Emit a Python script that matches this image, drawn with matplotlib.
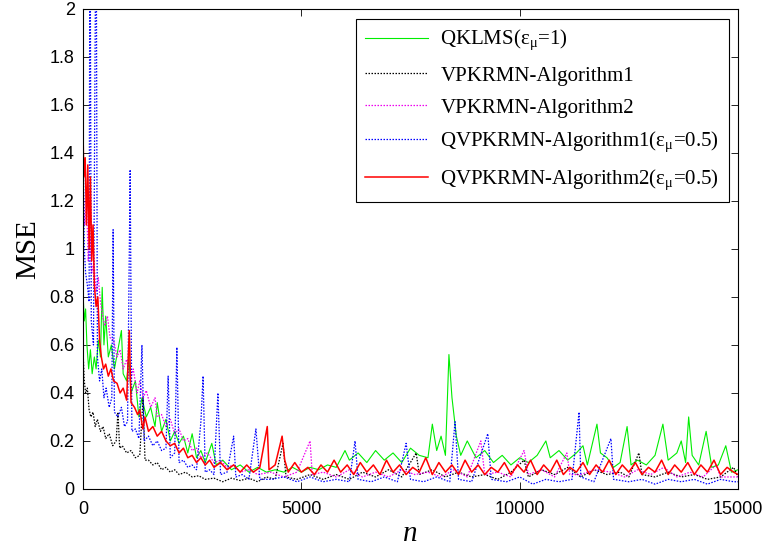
import matplotlib
matplotlib.use('Agg')
import matplotlib.pyplot as plt

# == data (iteration n, MSE) ===================================================
green_n = [0, 30, 60, 90, 130, 170, 210, 260, 300, 350, 400, 440, 480, 520, 580, 650, 720, 800,
           880, 920, 1000, 1050, 1100, 1200, 1280, 1350, 1450, 1550, 1650, 1700, 1800, 1900, 2000,
           2100, 2200, 2300, 2400, 2500, 2600, 2700, 2800, 2950, 3050, 3200, 3400, 3600, 3800, 4000,
           4200, 4400, 4600, 4800, 5000, 5200, 5400, 5600, 5800, 6000, 6100, 6300, 6500, 6700, 6900,
           7100, 7300, 7500, 7700, 7900, 8000, 8100, 8200, 8300, 8380, 8450, 8550, 8650, 8800, 9000,
           9200, 9400, 9600, 9800, 10000, 10200, 10400, 10600, 10700, 10900, 11100, 11300, 11450,
           11550, 11770, 11850, 12000, 12150, 12300, 12460, 12550, 12700, 12900, 13100, 13280, 13400,
           13600, 13700, 13800, 13870, 13950, 14100, 14270, 14400, 14550, 14720, 14850, 15000]
green_mse = [0.82, 0.70, 0.75, 0.60, 0.50, 0.58, 0.48, 0.55, 0.50, 0.62, 0.55, 0.84, 0.60, 0.72, 0.55,
             0.60, 0.50, 0.58, 0.66, 0.48, 0.45, 0.55, 0.40, 0.45, 0.30, 0.38, 0.30, 0.34, 0.26, 0.36,
             0.24, 0.29, 0.20, 0.24, 0.19, 0.22, 0.15, 0.23, 0.13, 0.16, 0.11, 0.19, 0.10, 0.12, 0.08,
             0.10, 0.07, 0.09, 0.07, 0.08, 0.07, 0.09, 0.07, 0.09, 0.08, 0.10, 0.09, 0.16, 0.12, 0.15,
             0.11, 0.16, 0.12, 0.15, 0.11, 0.17, 0.14, 0.13, 0.27, 0.16, 0.22, 0.14, 0.56, 0.38, 0.22,
             0.14, 0.20, 0.13, 0.16, 0.11, 0.14, 0.10, 0.13, 0.11, 0.14, 0.20, 0.13, 0.16, 0.12, 0.15,
             0.18, 0.10, 0.27, 0.15, 0.13, 0.09, 0.11, 0.26, 0.10, 0.12, 0.10, 0.14, 0.27, 0.12, 0.15,
             0.20, 0.11, 0.30, 0.14, 0.10, 0.24, 0.09, 0.10, 0.18, 0.07, 0.08]

black_n = [0, 30, 60, 100, 140, 180, 230, 280, 330, 400, 460, 520, 600, 680, 760, 800, 840, 900,
           1000, 1100, 1200, 1300, 1375, 1420, 1500, 1600, 1700, 1800, 1900, 2000, 2100, 2200, 2350,
           2500, 2650, 2800, 3000, 3200, 3400, 3600, 3800, 4000, 4200, 4400, 4580, 4650, 4900, 5200,
           5500, 5800, 6100, 6400, 6700, 7000, 7300, 7630, 7700, 8000, 8300, 8600, 8900, 9200, 9500,
           9800, 10100, 10200, 10500, 10800, 11100, 11400, 11700, 12000, 12300, 12500, 12730, 12800,
           13100, 13400, 13700, 14000, 14300, 14600, 14900, 15000]
black_mse = [0.58, 0.45, 0.40, 0.42, 0.33, 0.30, 0.32, 0.26, 0.29, 0.24, 0.26, 0.21, 0.23, 0.18, 0.20,
             0.32, 0.17, 0.18, 0.15, 0.16, 0.13, 0.14, 0.38, 0.12, 0.12, 0.10, 0.11, 0.08, 0.09, 0.07,
             0.08, 0.06, 0.07, 0.05, 0.055, 0.04, 0.045, 0.03, 0.045, 0.035, 0.045, 0.03, 0.05, 0.04,
             0.19, 0.05, 0.04, 0.06, 0.04, 0.06, 0.04, 0.07, 0.05, 0.08, 0.05, 0.15, 0.06, 0.08, 0.05,
             0.07, 0.05, 0.06, 0.04, 0.07, 0.12, 0.05, 0.08, 0.06, 0.09, 0.05, 0.08, 0.06, 0.07, 0.05,
             0.15, 0.06, 0.05, 0.07, 0.05, 0.06, 0.04, 0.05, 0.09, 0.05]

magenta_n = [0, 40, 80, 120, 160, 200, 250, 300, 350, 400, 450, 500, 560, 620, 700, 780, 850, 920,
             1000, 1080, 1150, 1240, 1300, 1380, 1450, 1550, 1650, 1700, 1800, 1900, 2000, 2100, 2200,
             2300, 2400, 2500, 2600, 2700, 2850, 3000, 3150, 3300, 3450, 3600, 3800, 4000, 4300, 4600,
             4900, 5200, 5250, 5500, 5800, 6100, 6400, 6700, 7000, 7300, 7600, 7900, 8200, 8500, 8800,
             9110, 9200, 9500, 9800, 10100, 10200, 10500, 10800, 11080, 11150, 11400, 11700, 12100,
             12400, 12700, 13000, 13300, 13600, 13900, 14200, 14500, 14600, 15000]
magenta_mse = [1.30, 1.10, 1.20, 0.95, 1.05, 0.90, 0.95, 0.82, 0.88, 0.78, 0.72, 0.68, 0.72, 0.63,
               0.62, 0.55, 0.58, 0.50, 0.54, 0.45, 0.50, 0.40, 0.45, 0.38, 0.41, 0.34, 0.38, 0.30,
               0.31, 0.26, 0.29, 0.23, 0.25, 0.20, 0.21, 0.16, 0.17, 0.13, 0.15, 0.11, 0.12, 0.09,
               0.10, 0.07, 0.08, 0.06, 0.07, 0.05, 0.07, 0.20, 0.06, 0.07, 0.05, 0.08, 0.05, 0.07,
               0.05, 0.08, 0.06, 0.07, 0.05, 0.08, 0.05, 0.20, 0.06, 0.07, 0.05, 0.16, 0.06, 0.08,
               0.05, 0.15, 0.06, 0.06, 0.08, 0.07, 0.05, 0.08, 0.06, 0.09, 0.05, 0.07, 0.05, 0.10,
               0.05, 0.05]

blue_n = [0, 30, 60, 100, 140, 160, 190, 240, 300, 330, 380, 430, 480, 530, 600, 660, 690, 720, 800,
          880, 950, 1020, 1080, 1120, 1200, 1280, 1350, 1400, 1500, 1600, 1700, 1800, 1900, 1950,
          2000, 2100, 2150, 2200, 2300, 2400, 2500, 2600, 2700, 2750, 2800, 2900, 3000, 3090, 3150,
          3300, 3450, 3500, 3650, 3800, 3960, 4050, 4300, 4600, 4900, 5200, 5500, 5800, 6100, 6230,
          6300, 6600, 6900, 7200, 7400, 7500, 7800, 8100, 8400, 8520, 8600, 8900, 9270, 9350, 9700,
          10000, 10300, 10600, 10900, 11200, 11360, 11400, 11700, 12090, 12150, 12500, 12800, 13100,
          13400, 13700, 14000, 14300, 14600, 14900, 15000]
blue_mse = [1.50, 1.00, 0.90, 0.85, 0.78, 2.60, 0.70, 0.60, 2.60, 0.55, 0.45, 0.50, 0.38, 0.42, 0.34,
            0.38, 1.08, 0.32, 0.30, 0.34, 0.26, 0.28, 1.33, 0.24, 0.25, 0.21, 0.60, 0.20, 0.22, 0.18,
            0.20, 0.16, 0.17, 0.47, 0.13, 0.15, 0.59, 0.11, 0.12, 0.09, 0.10, 0.08, 0.28, 0.47, 0.07,
            0.08, 0.06, 0.40, 0.06, 0.07, 0.22, 0.05, 0.06, 0.04, 0.25, 0.04, 0.04, 0.05, 0.03, 0.05,
            0.03, 0.04, 0.03, 0.20, 0.04, 0.03, 0.05, 0.03, 0.19, 0.04, 0.03, 0.05, 0.03, 0.28, 0.04,
            0.03, 0.23, 0.04, 0.03, 0.05, 0.02, 0.04, 0.03, 0.04, 0.32, 0.05, 0.03, 0.21, 0.04, 0.03,
            0.04, 0.02, 0.04, 0.03, 0.04, 0.02, 0.04, 0.03, 0.03]

red_n = [0, 1, 20, 50, 80, 110, 140, 170, 200, 230, 260, 300, 340, 380, 420, 470, 520, 580, 640, 700,
         780, 850, 920, 1000, 1060, 1100, 1180, 1250, 1300, 1370, 1420, 1500, 1600, 1700, 1800, 1900,
         2000, 2100, 2200, 2300, 2400, 2500, 2600, 2700, 2800, 2900, 3000, 3150, 3300, 3450, 3600,
         3750, 3900, 4050, 4220, 4260, 4400, 4560, 4620, 4700, 4850, 5000, 5150, 5300, 5450, 5600,
         5750, 5900, 6050, 6200, 6350, 6500, 6650, 6800, 6950, 7100, 7250, 7400, 7550, 7700, 7850,
         8000, 8150, 8300, 8450, 8600, 8750, 8900, 9050, 9200, 9350, 9500, 9650, 9800, 9950, 10100,
         10250, 10400, 10550, 10700, 10850, 11000, 11150, 11300, 11450, 11600, 11750, 11900, 12050,
         12200, 12350, 12500, 12650, 12800, 12950, 13100, 13250, 13400, 13550, 13700, 13850, 14000,
         14150, 14300, 14450, 14600, 14750, 14900, 15000]
red_mse = [0.0, 1.48, 1.30, 1.38, 1.10, 1.35, 1.00, 1.30, 0.95, 1.10, 0.85, 0.76, 0.80, 0.62, 0.55,
           0.50, 0.52, 0.47, 0.50, 0.45, 0.44, 0.40, 0.42, 0.37, 0.66, 0.36, 0.34, 0.31, 0.33, 0.25,
           0.30, 0.24, 0.26, 0.22, 0.24, 0.20, 0.18, 0.19, 0.15, 0.17, 0.13, 0.14, 0.11, 0.13, 0.10,
           0.12, 0.09, 0.11, 0.08, 0.10, 0.07, 0.10, 0.07, 0.09, 0.26, 0.08, 0.10, 0.22, 0.12, 0.07,
           0.11, 0.07, 0.09, 0.06, 0.10, 0.07, 0.12, 0.07, 0.10, 0.06, 0.11, 0.07, 0.10, 0.06, 0.12,
           0.07, 0.10, 0.06, 0.09, 0.07, 0.13, 0.06, 0.11, 0.07, 0.10, 0.06, 0.12, 0.07, 0.10, 0.06,
           0.09, 0.07, 0.11, 0.06, 0.10, 0.07, 0.12, 0.06, 0.10, 0.07, 0.12, 0.06, 0.09, 0.07, 0.11,
           0.06, 0.10, 0.07, 0.12, 0.06, 0.10, 0.07, 0.11, 0.06, 0.09, 0.07, 0.12, 0.06, 0.10, 0.07,
           0.11, 0.06, 0.10, 0.07, 0.12, 0.06, 0.09, 0.07, 0.06]

labels = ['QKLMS(ε$_{\\mathrm{μ}}$=1)', 'VPKRMN-Algorithm1', 'VPKRMN-Algorithm2',
          'QVPKRMN-Algorithm1(ε$_{\\mathrm{μ}}$=0.5)', 'QVPKRMN-Algorithm2(ε$_{\\mathrm{μ}}$=0.5)']
# =============================================================================

plt.rcParams['mathtext.fontset'] = 'custom'
plt.rcParams['mathtext.rm'] = 'Liberation Serif'
plt.rcParams['font.family'] = ['Liberation Sans', 'DejaVu Sans']

fig = plt.figure(figsize=(7.67, 5.55), dpi=100)
ax = fig.add_axes([0.1082, 0.119, 0.8540, 0.865])

dot = (0, (1.2, 1.2))
ax.plot(green_n, green_mse, color='#00ee00', lw=0.8, label=labels[0])
ax.plot(black_n, black_mse, color='black', lw=0.9, ls=dot, label=labels[1])
ax.plot(magenta_n, magenta_mse, color='#ee00ee', lw=0.9, ls=dot, label=labels[2])
ax.plot(blue_n, blue_mse, color='blue', lw=0.9, ls=dot, label=labels[3])
ax.plot(red_n, red_mse, color='red', lw=1.1, label=labels[4])

ax.set_xlim(0, 15000)
ax.set_ylim(0, 2)
ax.set_xticks([0, 5000, 10000, 15000])
ax.set_xticklabels(['0', '5000', '10000', '15000'])
ax.set_yticks([0, 0.2, 0.4, 0.6, 0.8, 1, 1.2, 1.4, 1.6, 1.8, 2])
ax.set_yticklabels(['0', '0.2', '0.4', '0.6', '0.8', '1', '1.2', '1.4', '1.6', '1.8', '2'])
ax.tick_params(direction='in', top=True, right=True, labelsize=13, length=5, width=0.6)
ax.tick_params(axis='x', pad=9)
ax.tick_params(axis='y', pad=6)
for sp in ax.spines.values():
    sp.set_linewidth(0.8)

ax.set_ylabel('MSE', family='Liberation Serif', fontsize=21, labelpad=6)
ax.set_xlabel('n', family='Liberation Serif', style='italic', fontsize=21, labelpad=2)

leg = ax.legend(loc='upper right', bbox_to_anchor=(0.986, 0.979), borderaxespad=0,
                prop={'family': 'Liberation Serif', 'size': 15}, fancybox=False,
                edgecolor='black', framealpha=1, handlelength=3.0, labelspacing=0.6,
                handletextpad=0.6, borderpad=0.45)
leg.get_frame().set_linewidth(0.8)

plt.savefig('out.png', dpi=100)
